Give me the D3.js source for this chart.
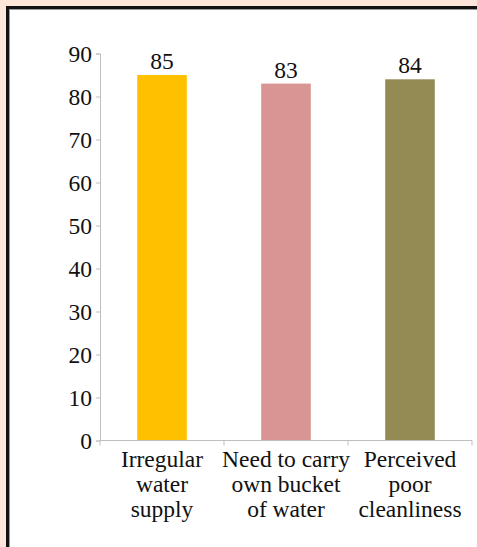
<!DOCTYPE html>
<html>
<head>
<meta charset="utf-8">
<script src="https://cdn.jsdelivr.net/npm/d3@7"></script>
<style>
  html, body { margin: 0; padding: 0; background: #fde5da; }
  svg { display: block; }
  svg text { font-family: "Liberation Serif", "Times New Roman", Times, serif; }
</style>
</head>
<body>
<svg width="477" height="547"></svg>
<script>
// data
const categories = [
  ["Irregular", "water", "supply"],
  ["Need to carry", "own bucket", "of water"],
  ["Perceived", "poor", "cleanliness"]
];
const values = [85, 83, 84];
const colors = ["#ffc000", "#d99594", "#948a54"];
const yTicks = [0, 10, 20, 30, 40, 50, 60, 70, 80, 90];

const svg = d3.select("svg");

// frame
svg.append("rect")
  .attr("x", 7.5).attr("y", 7.5)
  .attr("width", 480).attr("height", 560)
  .attr("fill", "#fff")
  .attr("stroke", "#111")
  .attr("stroke-width", 3);
svg.append("rect")
  .attr("x", 9.5).attr("y", 9.5)
  .attr("width", 480).attr("height", 560)
  .attr("fill", "none")
  .attr("stroke", "#999")
  .attr("stroke-width", 1);

const plotLeft = 100, plotRight = 472, plotTop = 53.5, plotBottom = 440.5;

const x = d3.scaleBand()
  .domain(d3.range(categories.length))
  .range([plotLeft, plotRight])
  .paddingInner(0).paddingOuter(0);

const y = d3.scaleLinear()
  .domain([0, 90])
  .range([plotBottom, plotTop]);

const fontSize = "23.5px";

// bars
const barW = x.bandwidth() * 0.4;
svg.selectAll(".bar")
  .data(values)
  .enter().append("rect")
  .attr("class", "bar")
  .attr("x", (d, i) => x(i) + (x.bandwidth() - barW) / 2)
  .attr("y", d => y(d))
  .attr("width", barW)
  .attr("height", d => y(0) - y(d))
  .attr("fill", (d, i) => colors[i]);

// value labels
svg.selectAll(".val")
  .data(values)
  .enter().append("text")
  .attr("x", (d, i) => x(i) + x.bandwidth() / 2)
  .attr("y", d => y(d) - 6)
  .attr("text-anchor", "middle")
  .style("font-size", fontSize)
  .style("fill", "#111")
  .text(d => d);

// y axis
const yAxis = svg.append("g")
  .attr("transform", "translate(" + plotLeft + ",0)")
  .call(d3.axisLeft(y).tickValues(yTicks).tickSize(4).tickPadding(4));
yAxis.attr("font-family", null).attr("font-size", null);
yAxis.selectAll("path, line").attr("stroke", "#bfbfbf");
yAxis.selectAll("text")
  .style("font-size", fontSize)
  .style("fill", "#111");

// x axis line + ticks at band edges
svg.append("line")
  .attr("x1", plotLeft).attr("x2", plotRight)
  .attr("y1", y(0)).attr("y2", y(0))
  .attr("stroke", "#bfbfbf");
svg.selectAll(".xtick")
  .data(d3.range(categories.length + 1))
  .enter().append("line")
  .attr("x1", i => i < categories.length ? x(i) : plotRight)
  .attr("x2", i => i < categories.length ? x(i) : plotRight)
  .attr("y1", y(0)).attr("y2", y(0) + 5)
  .attr("stroke", "#bfbfbf");

// category labels
const cat = svg.selectAll(".cat")
  .data(categories)
  .enter().append("text")
  .attr("text-anchor", "middle")
  .style("font-size", fontSize)
  .style("fill", "#111");
cat.selectAll("tspan")
  .data((d, i) => d.map(t => ({ t: t, i: i })))
  .enter().append("tspan")
  .attr("x", d => x(d.i) + x.bandwidth() / 2)
  .attr("y", (d, j) => 467 + j * 25)
  .text(d => d.t);
</script>
</body>
</html>
